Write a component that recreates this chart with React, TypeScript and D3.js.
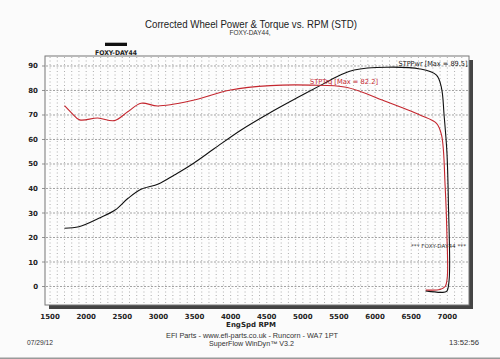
import React from "react";
import * as d3 from "d3";

// x axis (engine speed) and y axis (power / torque) ticks
const rpmTicks = [1500, 2000, 2500, 3000, 3500, 4000, 4500, 5000, 5500, 6000, 6500, 7000];
const valueTicks = [0, 10, 20, 30, 40, 50, 60, 70, 80, 90];

// STPPwr run (includes the coast-down tail)
const pwrRpm = [1700, 1900, 2200, 2400, 2580, 2760, 3000, 3220, 3450, 3770, 4140, 4550, 4920, 5290, 5520, 5710, 6160, 6620, 6850, 6920, 6955, 6995, 7015, 7025, 6990, 6920, 6700];
const pwrVal = [23.8, 24.4, 28.2, 31.2, 36.0, 39.7, 41.8, 45.5, 49.6, 56.2, 63.8, 71.0, 77.0, 82.8, 86.3, 88.4, 89.5, 88.8, 86.3, 80.9, 70.0, 54.4, 34.0, 2.7, -2.0, -2.4, -1.8];

// STPTrq run
const trqRpm = [1700, 1800, 1910, 2160, 2390, 2580, 2760, 2990, 3450, 4000, 4550, 5100, 5600, 6160, 6620, 6850, 6920, 6970, 6995, 7000, 6970, 6900, 6700];
const trqVal = [73.8, 70.8, 68.0, 68.8, 67.7, 71.4, 74.8, 73.7, 75.8, 80.2, 82.0, 82.2, 81.3, 75.4, 70.0, 66.6, 61.8, 40.7, 20.3, 4.0, 0.0, -1.2, -1.4];

const W = 500;
const H = 359;
const plot = { left: 45, top: 56, right: 469, bottom: 305 };

const RED = "#c4262e";
const FONT = "'DejaVu Sans', Verdana, sans-serif";
const SANS = "'Liberation Sans', Arial, sans-serif";

export default function App() {
  const x = d3.scaleLinear().domain([1430, 7300]).range([plot.left, plot.right]);
  const y = d3.scaleLinear().domain([-7.55, 94.08]).range([plot.bottom, plot.top]);

  const minorRpm = d3.range(1500, 7300, 100);

  const pwrLine = d3
    .line<number>()
    .x((d, i) => x(pwrRpm[i]))
    .y((d) => y(d))
    .curve(d3.curveCatmullRom.alpha(0.5));

  const trqLine = d3
    .line<number>()
    .x((d, i) => x(trqRpm[i]))
    .y((d) => y(d))
    .curve(d3.curveCatmullRom.alpha(0.5));

  return (
    <svg
      width={W}
      height={H}
      style={{ position: "absolute", left: 0, top: 0, background: "#fbfbfb" }}
    >
      {/* titles */}
      <text x={251} y={27.5} textAnchor="middle" fontFamily={SANS} fontSize={11.5} fill="#222" textLength={212} lengthAdjust="spacingAndGlyphs">
        Corrected Wheel Power &amp; Torque vs. RPM (STD)
      </text>
      <text x={250} y={35} textAnchor="middle" fontFamily={SANS} fontSize={6.5} fill="#333">
        FOXY-DAY44,
      </text>

      {/* legend */}
      <rect x={105} y={42.7} width={22} height={3.3} fill="#111" />
      <text x={116} y={55} textAnchor="middle" fontFamily={FONT} fontWeight="bold" fontSize={6.5} fill="#222" textLength={42} lengthAdjust="spacingAndGlyphs">
        FOXY-DAY44
      </text>

      {/* drop shadow of the plot frame */}
      <rect x={plot.left + 4} y={plot.top + 4} width={plot.right - plot.left} height={plot.bottom - plot.top} fill="#444" />
      <rect x={plot.left} y={plot.top} width={plot.right - plot.left} height={plot.bottom - plot.top} fill="#fdfdfd" stroke="#777" strokeWidth={1} />

      {/* vertical dotted grid */}
      {minorRpm.map((r) => (
        <line key={"v" + r} x1={x(r)} x2={x(r)} y1={plot.top + 1} y2={plot.bottom - 1} stroke="#9a9a9a" strokeWidth={0.8} strokeDasharray="1,2.5" />
      ))}
      {/* horizontal dashed grid */}
      {valueTicks.map((v) => (
        <line key={"h" + v} x1={plot.left + 1} x2={plot.right - 1} y1={y(v)} y2={y(v)} stroke="#8a8a8a" strokeWidth={0.8} strokeDasharray="2,1.5" />
      ))}

      {/* y axis labels + ticks */}
      {valueTicks.map((v) => (
        <g key={"yl" + v}>
          <line x1={plot.left - 3} x2={plot.left} y1={y(v)} y2={y(v)} stroke="#777" strokeWidth={0.8} />
          <text x={38} y={y(v) + 2.5} textAnchor="end" fontFamily={FONT} fontWeight="bold" fontSize={7} fill="#222">
            {v}
          </text>
        </g>
      ))}

      {/* x axis labels */}
      {rpmTicks.map((r) => (
        <text key={"xl" + r} x={x(r)} y={319} textAnchor="middle" fontFamily={FONT} fontWeight="bold" fontSize={7} fill="#222">
          {r}
        </text>
      ))}
      <text x={251} y={327} textAnchor="middle" fontFamily={FONT} fontWeight="bold" fontSize={7} fill="#222">
        EngSpd RPM
      </text>

      {/* curves */}
      <path d={pwrLine(pwrVal) ?? ""} fill="none" stroke="#111" strokeWidth={1.1} />
      <path d={trqLine(trqVal) ?? ""} fill="none" stroke={RED} strokeWidth={1.1} />

      {/* annotations */}
      <text x={467.5} y={66} textAnchor="end" fontFamily={FONT} fontSize={7} fill="#222" textLength={69} lengthAdjust="spacingAndGlyphs">
        STPPwr [Max = 89.5]
      </text>
      <text x={310} y={84} fontFamily={FONT} fontSize={7} fill={RED} textLength={68} lengthAdjust="spacingAndGlyphs">
        STPTrq [Max = 82.2]
      </text>
      <text x={438.5} y={247.5} textAnchor="middle" fontFamily={FONT} fontSize={5.5} fill="#333" textLength={55} lengthAdjust="spacingAndGlyphs">
        *** FOXY-DAY44 ***
      </text>

      {/* footer */}
      <text x={252} y={337.5} textAnchor="middle" fontFamily={SANS} fontSize={6.5} fill="#333" textLength={172} lengthAdjust="spacingAndGlyphs">
        EFI Parts - www.efi-parts.co.uk - Runcorn - WA7 1PT
      </text>
      <text x={251.5} y={345.5} textAnchor="middle" fontFamily={SANS} fontSize={6.5} fill="#333" textLength={85} lengthAdjust="spacingAndGlyphs">
        SuperFlow WinDyn™ V3.2
      </text>
      <text x={27} y={344.5} fontFamily={SANS} fontSize={6.5} fill="#333" textLength={26} lengthAdjust="spacingAndGlyphs">
        07/29/12
      </text>
      <text x={479} y={344.5} textAnchor="end" fontFamily={SANS} fontSize={6.5} fill="#333" textLength={30} lengthAdjust="spacingAndGlyphs">
        13:52:56
      </text>

      <rect x={0} y={357.5} width={W} height={1.5} fill="#9a9a9a" />
    </svg>
  );
}
